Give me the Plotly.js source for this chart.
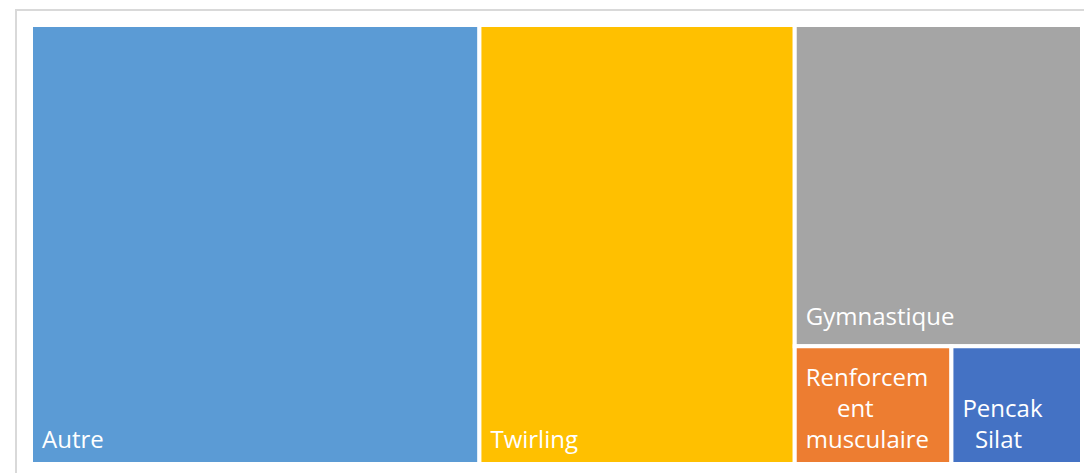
<!DOCTYPE html>
<html><head><meta charset="utf-8">
<script src="https://cdn.plot.ly/plotly-3.0.1.min.js"></script>
<style>html,body{margin:0;padding:0;background:#fff;}#chart{width:1084px;height:473px;}</style>
</head><body><div id="chart"></div>
<script>
const labels = ["Autre", "Twirling", "Gymnastique", "Renforcement musculaire", "Pencak Silat"];
const displayText = ["Autre", "Twirling", "Gymnastique", "Renforcem<br>\u00a0\u00a0\u00a0\u00a0\u00a0ent<br>musculaire", "Pencak<br>\u00a0\u00a0Silat"];
const values = [64, 45, 30, 6, 5];
const colors = ["#5B9BD5", "#FFC000", "#A5A5A5", "#ED7D31", "#4472C4"];

const trace = {
  type: "treemap",
  labels: labels,
  parents: labels.map(() => ""),
  values: values,
  text: displayText,
  textinfo: "text",
  textposition: "bottom left",
  sort: false,
  branchvalues: "total",
  marker: {colors: colors, line: {color: "#ffffff", width: 4}, pad: {t: 0, l: 0, r: 0, b: 0}},
  tiling: {packing: "squarify", pad: 0},
  pathbar: {visible: false},
  textfont: {family: "'Open Sans', sans-serif", size: 24, color: "#ffffff"},
  hoverinfo: "label+value"
};
const W = 1084, H = 473;
const m = {l: 31, r: 2, t: 25, b: 9};
const pw = W - m.l - m.r, ph = H - m.t - m.b;
const layout = {
  width: W, height: H,
  margin: m,
  paper_bgcolor: "#ffffff",
  showlegend: false,
  shapes: [{
    type: "rect", xref: "paper", yref: "paper",
    x0: (16 - m.l) / pw, x1: 1.2,
    y1: 1 + (m.t - 10) / ph, y0: -0.2,
    line: {color: "#d9d9d9", width: 2}, fillcolor: "rgba(0,0,0,0)", layer: "below"
  }]
};
Plotly.newPlot("chart", [trace], layout, {displayModeBar: false, staticPlot: true}).then(function (gd) {
  // inset the labels from the tile corner, as in the reference
  gd.querySelectorAll("text.slicetext").forEach(function (t) {
    const up = t.textContent.indexOf("Gymnastique") === 0 ? -11 : -6;
    t.setAttribute("transform", "translate(8," + up + ") " + (t.getAttribute("transform") || ""));
  });
});
</script></body></html>
